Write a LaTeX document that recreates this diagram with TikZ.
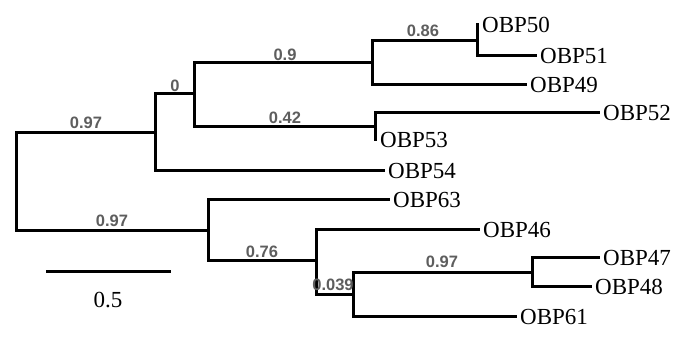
\documentclass[tikz,border=0pt]{standalone}
\usepackage{fontspec}
\setmainfont{Liberation Serif}
\newfontfamily\bsfont{Liberation Sans}
\definecolor{bsgray}{HTML}{5E5E5E}
\tikzset{
  branch/.style={line width=3pt, black, line cap=rect},
  leaf/.style={anchor=west, inner xsep=5pt, inner ysep=0pt, font=\fontsize{23}{24}\selectfont, text=black},
  bslabel/.style={inner sep=0pt, font=\bsfont\bfseries\fontsize{16.5}{18}\selectfont, text=bsgray},
}
\begin{document}
\begin{tikzpicture}[x=1pt, y=-1pt]
\useasboundingbox[fill=white] (0,0) rectangle (678,339);
% internal nodes
\coordinate (root) at (16,182);
\coordinate (A) at (155,133);
\coordinate (B) at (194,94);
\coordinate (C) at (372,63);
\coordinate (D) at (477,41);
\coordinate (E) at (375,127);
\coordinate (F) at (208,231);
\coordinate (G) at (316,261);
\coordinate (H) at (353,295);
\coordinate (I) at (532,273);
% leaves
\node[leaf] (l50) at (477,25) {OBP50};
\node[leaf] (l51) at (535,56) {OBP51};
\node[leaf] (l49) at (525,85) {OBP49};
\node[leaf] (l52) at (598,113) {OBP52};
\node[leaf] (l53) at (375,140) {OBP53};
\node[leaf] (l54) at (383,171) {OBP54};
\node[leaf] (l63) at (388,200) {OBP63};
\node[leaf] (l46) at (478,230) {OBP46};
\node[leaf] (l47) at (598,258) {OBP47};
\node[leaf] (l48) at (590,287) {OBP48};
\node[leaf] (l61) at (515,317) {OBP61};
% branches
\draw[branch] (root) |- (A);
\draw[branch] (root) |- (F);
\draw[branch] (A) |- (B);
\draw[branch] (A) |- (l54.west);
\draw[branch] (B) |- (C);
\draw[branch] (B) |- (E);
\draw[branch] (C) |- (D);
\draw[branch] (C) |- (l49.west);
\draw[branch] (D) |- (l50.west);
\draw[branch] (D) |- (l51.west);
\draw[branch] (E) |- (l52.west);
\draw[branch] (E) |- (l53.west);
\draw[branch] (F) |- (l63.west);
\draw[branch] (F) |- (G);
\draw[branch] (G) |- (l46.west);
\draw[branch] (G) |- (H);
\draw[branch] (H) |- (I);
\draw[branch] (H) |- (l61.west);
\draw[branch] (I) |- (l47.west);
\draw[branch] (I) |- (l48.west);
% support values
\node[bslabel] (s1) at (423,31) {0.86};
\node[bslabel] (s2) at (285,55) {0.9};
\node[bslabel] (s3) at (175,86) {0};
\node[bslabel] (s4) at (285,118) {0.42};
\node[bslabel] (s5) at (86,123) {0.97};
\node[bslabel] (s6) at (112,221) {0.97};
\node[bslabel] (s7) at (262,252) {0.76};
\node[bslabel] (s8) at (333,285) {0.039};
\node[bslabel] (s9) at (442,262) {0.97};
% scale bar
\coordinate (sb1) at (46,272);
\coordinate (sb2) at (171,272);
\draw[branch, line cap=butt] (sb1) -- (sb2);
\node[font=\fontsize{23}{24}\selectfont, inner sep=0pt] (sbl) at (108,300) {0.5};
\end{tikzpicture}
\end{document}
